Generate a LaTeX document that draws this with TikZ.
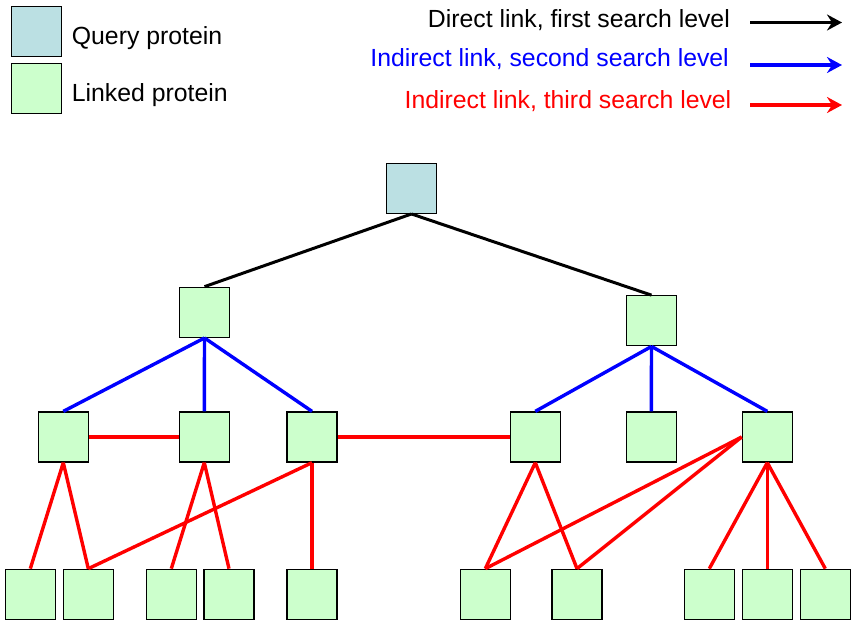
\documentclass[tikz,border=0pt]{standalone}
\usepackage{fontspec}
\setmainfont{Liberation Sans}
\usetikzlibrary{arrows.meta}
\definecolor{querycol}{RGB}{187,224,227}
\definecolor{linkcol}{RGB}{204,255,204}
\begin{document}
\begin{tikzpicture}[x=1pt,y=-1pt,
    prot/.style={draw,line width=1.3pt,minimum size=50pt,inner sep=0pt,fill=linkcol},
    query/.style={prot,fill=querycol},
    lbl/.style={inner sep=0pt,font=\fontsize{24.8pt}{29pt}\selectfont},
    first/.style={line width=3pt,black},
    second/.style={line width=3.4pt,blue},
    third/.style={line width=3.4pt,red},
    tip/.style={-{Stealth[length=15pt,width=16pt,inset=5pt]}}]
  \useasboundingbox (0,0) rectangle (859,625);
  % legend
  \node[query] (lq) at (36.5,31.5) {};
  \node[prot] (ll) at (36.5,88.8) {};
  \node[lbl,anchor=base west] (tq) at (71.7,44) {Query protein};
  \node[lbl,anchor=base west] (tl) at (71.7,101) {Linked protein};
  \node[lbl,anchor=base east] (t1) at (730,27) {Direct link, first search level};
  \node[lbl,anchor=base east,text=blue] (t2) at (729,66.5) {Indirect link, second search level};
  \node[lbl,anchor=base east,text=red] (t3) at (731.5,108.5) {Indirect link, third search level};
  \coordinate (k1) at (750,22.5);  \coordinate (e1) at (842,22.5);
  \coordinate (k2) at (750,65);    \coordinate (e2) at (842,65);
  \coordinate (k3) at (750,105);   \coordinate (e3) at (842,105);
  \draw[first,tip] (k1) -- (e1);
  \draw[second,tip] (k2) -- (e2);
  \draw[third,tip] (k3) -- (e3);
  % tree
  \node[query] (q) at (411.5,188.3) {};
  \node[prot] (a) at (204.5,312.3) {};
  \node[prot] (b) at (651.5,320.8) {};
  \foreach \n/\x in {a1/63.3,a2/204.3,a3/312,b1/535.3,b2/651.3,b3/767.3}
    \node[prot] (\n) at (\x,437) {};
  \foreach \n/\x in {c1/30.3,c2/88.3,c3/171.3,c4/229,c5/312,c6/485.3,c7/577,c8/709.3,c9/767.3,c10/825.3}
    \node[prot] (\n) at (\x,594.3) {};
  \draw[first] (q.south) -- (a.north);
  \draw[first] (q.south) -- (b.north);
  \foreach \s/\t in {a/a1,a/a2,a/a3,b/b1,b/b2,b/b3}
    \draw[second] (\s.south) -- (\t.north);
  \draw[third] (a1.east) -- (a2.west);
  \draw[third] (a3.east) -- (b1.west);
  \foreach \s/\t in {a1/c1,a1/c2,a2/c3,a2/c4,a3/c5,a3/c2,b1/c6,b1/c7,b3/c8,b3/c9,b3/c10}
    \draw[third] (\s.south) -- (\t.north);
  \draw[third] (b3.west) -- (c6.north);
  \draw[third] (b3.west) -- (c7.north);
\end{tikzpicture}
\end{document}
